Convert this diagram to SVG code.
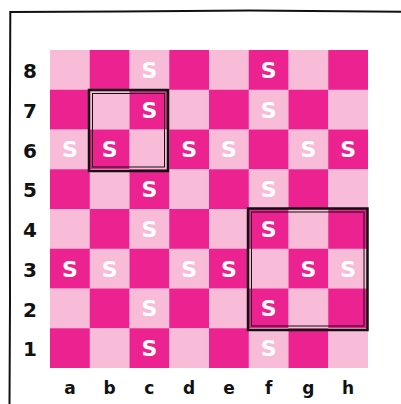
<svg xmlns="http://www.w3.org/2000/svg" width="401" height="404" viewBox="0 0 401 404">
<style>
.d{fill:#EC2290}
.l{fill:#F8BCD9}
.s{font-family:"DejaVu Sans",sans-serif;font-weight:bold;font-size:22px;fill:#fff;text-anchor:middle}
.lab{font-family:"DejaVu Sans",sans-serif;font-weight:bold;font-size:20px;fill:#111;text-anchor:middle}
.fl{font-family:"DejaVu Sans",sans-serif;font-weight:bold;font-size:17px;fill:#111;text-anchor:middle}
.box{fill:none;stroke:#111;stroke-width:2.5}
.inner{fill:none;stroke:#111;stroke-width:1}
.frame{fill:none;stroke:#111;stroke-width:2;stroke-linecap:round}
</style>
<rect width="401" height="404" fill="#fff"/>
<path class="frame" d="M9.5,404 L10,300 L9.8,150 L10.3,12 L120,11.5 L250,10.6 L401,11.8"/>
<g id="board">
<g id="row8">
<rect class="l" x="50" y="50" width="40" height="40"/><rect class="d" x="89.75" y="50" width="40" height="40"/><rect class="l" x="129.5" y="50" width="40" height="40"/><rect class="d" x="169.25" y="50" width="40" height="40"/><rect class="l" x="209" y="50" width="40" height="40"/><rect class="d" x="248.75" y="50" width="40" height="40"/><rect class="l" x="288.5" y="50" width="40" height="40"/><rect class="d" x="328.25" y="50" width="39.75" height="40"/>
</g>
<g id="row7">
<rect class="d" x="50" y="89.75" width="40" height="40"/><rect class="l" x="89.75" y="89.75" width="40" height="40"/><rect class="d" x="129.5" y="89.75" width="40" height="40"/><rect class="l" x="169.25" y="89.75" width="40" height="40"/><rect class="d" x="209" y="89.75" width="40" height="40"/><rect class="l" x="248.75" y="89.75" width="40" height="40"/><rect class="d" x="288.5" y="89.75" width="40" height="40"/><rect class="l" x="328.25" y="89.75" width="39.75" height="40"/>
</g>
<g id="row6">
<rect class="l" x="50" y="129.5" width="40" height="40"/><rect class="d" x="89.75" y="129.5" width="40" height="40"/><rect class="l" x="129.5" y="129.5" width="40" height="40"/><rect class="d" x="169.25" y="129.5" width="40" height="40"/><rect class="l" x="209" y="129.5" width="40" height="40"/><rect class="d" x="248.75" y="129.5" width="40" height="40"/><rect class="l" x="288.5" y="129.5" width="40" height="40"/><rect class="d" x="328.25" y="129.5" width="39.75" height="40"/>
</g>
<g id="row5">
<rect class="d" x="50" y="169.25" width="40" height="40"/><rect class="l" x="89.75" y="169.25" width="40" height="40"/><rect class="d" x="129.5" y="169.25" width="40" height="40"/><rect class="l" x="169.25" y="169.25" width="40" height="40"/><rect class="d" x="209" y="169.25" width="40" height="40"/><rect class="l" x="248.75" y="169.25" width="40" height="40"/><rect class="d" x="288.5" y="169.25" width="40" height="40"/><rect class="l" x="328.25" y="169.25" width="39.75" height="40"/>
</g>
<g id="row4">
<rect class="l" x="50" y="209" width="40" height="40"/><rect class="d" x="89.75" y="209" width="40" height="40"/><rect class="l" x="129.5" y="209" width="40" height="40"/><rect class="d" x="169.25" y="209" width="40" height="40"/><rect class="l" x="209" y="209" width="40" height="40"/><rect class="d" x="248.75" y="209" width="40" height="40"/><rect class="l" x="288.5" y="209" width="40" height="40"/><rect class="d" x="328.25" y="209" width="39.75" height="40"/>
</g>
<g id="row3">
<rect class="d" x="50" y="248.75" width="40" height="40"/><rect class="l" x="89.75" y="248.75" width="40" height="40"/><rect class="d" x="129.5" y="248.75" width="40" height="40"/><rect class="l" x="169.25" y="248.75" width="40" height="40"/><rect class="d" x="209" y="248.75" width="40" height="40"/><rect class="l" x="248.75" y="248.75" width="40" height="40"/><rect class="d" x="288.5" y="248.75" width="40" height="40"/><rect class="l" x="328.25" y="248.75" width="39.75" height="40"/>
</g>
<g id="row2">
<rect class="l" x="50" y="288.5" width="40" height="40"/><rect class="d" x="89.75" y="288.5" width="40" height="40"/><rect class="l" x="129.5" y="288.5" width="40" height="40"/><rect class="d" x="169.25" y="288.5" width="40" height="40"/><rect class="l" x="209" y="288.5" width="40" height="40"/><rect class="d" x="248.75" y="288.5" width="40" height="40"/><rect class="l" x="288.5" y="288.5" width="40" height="40"/><rect class="d" x="328.25" y="288.5" width="39.75" height="40"/>
</g>
<g id="row1">
<rect class="d" x="50" y="328.25" width="40" height="39.75"/><rect class="l" x="89.75" y="328.25" width="40" height="39.75"/><rect class="d" x="129.5" y="328.25" width="40" height="39.75"/><rect class="l" x="169.25" y="328.25" width="40" height="39.75"/><rect class="d" x="209" y="328.25" width="40" height="39.75"/><rect class="l" x="248.75" y="328.25" width="40" height="39.75"/><rect class="d" x="288.5" y="328.25" width="40" height="39.75"/><rect class="l" x="328.25" y="328.25" width="39.75" height="39.75"/>
</g>
</g>
<g id="pieces">
<text class="s" x="149.4" y="78">S</text><text class="s" x="268.6" y="78">S</text>
<text class="s" x="149.4" y="117.6">S</text><text class="s" x="268.6" y="117.6">S</text>
<text class="s" x="69.9" y="157.4">S</text><text class="s" x="109.6" y="157.4">S</text><text class="s" x="189.1" y="157.4">S</text><text class="s" x="228.9" y="157.4">S</text><text class="s" x="308.4" y="157.4">S</text><text class="s" x="348.1" y="157.4">S</text>
<text class="s" x="149.4" y="197.1">S</text><text class="s" x="268.6" y="197.1">S</text>
<text class="s" x="149.4" y="236.9">S</text><text class="s" x="268.6" y="236.9">S</text>
<text class="s" x="69.9" y="276.6">S</text><text class="s" x="109.6" y="276.6">S</text><text class="s" x="189.1" y="276.6">S</text><text class="s" x="228.9" y="276.6">S</text><text class="s" x="308.4" y="276.6">S</text><text class="s" x="348.1" y="276.6">S</text>
<text class="s" x="149.4" y="316.4">S</text><text class="s" x="268.6" y="316.4">S</text>
<text class="s" x="149.4" y="356.1">S</text><text class="s" x="268.6" y="356.1">S</text>
</g>
<g id="ranks">
<text class="lab" x="30" y="78">8</text>
<text class="lab" x="30" y="117.7">7</text>
<text class="lab" x="30" y="157.5">6</text>
<text class="lab" x="30" y="197.2">5</text>
<text class="lab" x="30" y="237">4</text>
<text class="lab" x="30" y="276.7">3</text>
<text class="lab" x="30" y="316.5">2</text>
<text class="lab" x="30" y="356.2">1</text>
</g>
<g id="files">
<text class="fl" x="69.9" y="394">a</text>
<text class="fl" x="109.6" y="394">b</text>
<text class="fl" x="149.4" y="394">c</text>
<text class="fl" x="189.1" y="394">d</text>
<text class="fl" x="228.9" y="394">e</text>
<text class="fl" x="268.6" y="394">f</text>
<text class="fl" x="308.4" y="394">g</text>
<text class="fl" x="348.1" y="394">h</text>
</g>
<g id="box-b7c6">
<rect class="box" x="89" y="90" width="79" height="81"/>
<rect class="inner" x="92.5" y="93.5" width="72" height="73.5"/>
</g>
<g id="box-f4h2">
<rect class="box" x="248" y="208.5" width="119.5" height="121.5"/>
<rect class="inner" x="251.5" y="212" width="112.5" height="114"/>
</g>
</svg>
